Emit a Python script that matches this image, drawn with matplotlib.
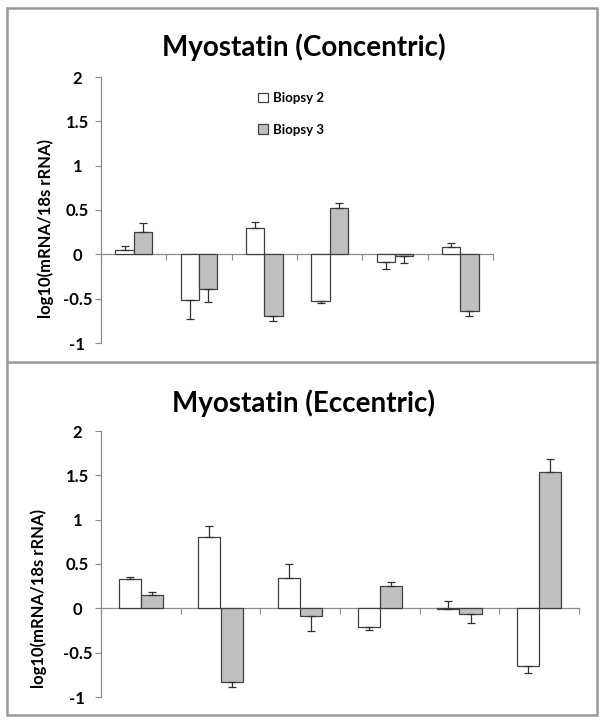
import matplotlib
matplotlib.use("Agg")
import matplotlib.pyplot as plt
import numpy as np
from matplotlib.lines import Line2D
from matplotlib.patches import Rectangle, Patch

plt.rcParams['font.family'] = ['Lato', 'DejaVu Sans']

# ---- data ----
n_groups = 6
series_names = ["Biopsy 2", "Biopsy 3"]
yticks = [-1, -0.5, 0, 0.5, 1, 1.5, 2]
ytick_labels = ["-1", "-0.5", "0", "0.5", "1", "1.5", "2"]

conc_b2 = [0.045, -0.515, 0.30, -0.53, -0.09, 0.078]
conc_b3 = [0.25, -0.39, -0.70, 0.52, -0.015, -0.64]
# signed error offsets (cap position = value + err)
conc_b2_err = [0.045, -0.215, 0.07, -0.02, -0.08, 0.045]
conc_b3_err = [0.105, -0.15, -0.05, 0.055, -0.082, -0.05]

ecc_b2 = [0.335, 0.81, 0.34, -0.207, -0.01, -0.65]
ecc_b3 = [0.147, -0.83, -0.083, 0.248, -0.068, 1.534]
ecc_b2_err = [0.015, 0.12, 0.16, -0.038, 0.09, -0.083]
ecc_b3_err = [0.033, -0.06, -0.177, 0.049, -0.092, 0.154]

W, H = 604, 723
fig = plt.figure(figsize=(W / 100, H / 100), dpi=100)

def fx(px):
    return px / W

def fy(py):
    return 1 - py / H

axis_gray = "#8c8c8c"
edge = "#404040"
fill3 = "#c0c0c0"

def draw_panel(ax, b2, b3, e2, e3, title, title_y, ylabel_xy):
    x = np.arange(n_groups) + 0.5
    bw = 0.28
    for vals, errs, off, color, name in ((b2, e2, -bw / 2, "white", series_names[0]),
                                         (b3, e3, bw / 2, fill3, series_names[1])):
        vals = np.array(vals)
        errs = np.array(errs)
        ax.bar(x + off, vals, width=bw, color=color, edgecolor=edge, linewidth=0.9,
               zorder=3, label=name)
        lower = np.where(errs < 0, -errs, 0)
        upper = np.where(errs > 0, errs, 0)
        ax.errorbar(x + off, vals, yerr=[lower, upper], fmt="none", ecolor="#303030",
                    elinewidth=0.9, capsize=3.2, capthick=0.9, zorder=4)
    ax.set_xlim(0, n_groups)
    ax.set_ylim(-1, 2)
    ax.set_yticks(yticks)
    ax.set_yticklabels(ytick_labels, fontsize=12, fontweight="bold")
    ax.set_xticks(np.arange(n_groups + 1))
    ax.set_xticklabels([])
    for s in ("top", "right"):
        ax.spines[s].set_visible(False)
    ax.spines["bottom"].set_position(("data", 0))
    for s in ("left", "bottom"):
        ax.spines[s].set_color(axis_gray)
        ax.spines[s].set_linewidth(0.9)
    ax.tick_params(axis="y", direction="out", length=4, color=axis_gray, pad=13)
    ax.tick_params(axis="x", direction="out", length=4, color=axis_gray)
    for lab in ax.get_yticklabels():
        lab.set_horizontalalignment("center")
    ax.set_ylabel("log10(mRNA/18s rRNA)", fontsize=12, fontweight="bold")
    ax.yaxis.set_label_coords(*ylabel_xy)
    fig.text(fx(304), fy(title_y), title, ha="center", va="center",
             fontsize=20, fontweight="bold")

ax1 = fig.add_axes([fx(101), fy(343), fx(493) - fx(101), fy(77) - fy(343)])
draw_panel(ax1, conc_b2, conc_b3, conc_b2_err, conc_b3_err,
           "Myostatin (Concentric)", 47, (-0.12, 0.43))

ax2 = fig.add_axes([fx(101), fy(697), fx(579) - fx(101), fy(431) - fy(697)])
draw_panel(ax2, ecc_b2, ecc_b3, ecc_b2_err, ecc_b3_err,
           "Myostatin (Eccentric)", 403, (-0.114, 0.37))

handles = [Patch(facecolor="white", edgecolor=edge, linewidth=0.9),
           Patch(facecolor=fill3, edgecolor=edge, linewidth=0.9)]
leg = ax1.legend(handles, series_names, loc="upper left",
                 bbox_to_anchor=(fx(258), fy(92)), bbox_transform=fig.transFigure,
                 frameon=False, prop={"weight": "bold", "size": 9.5},
                 handlelength=0.75, handleheight=0.75, handletextpad=0.35,
                 labelspacing=1.5, borderaxespad=0, borderpad=0)

# outer frames
lw = 1.8
fcol = "#999999"
fig.add_artist(Rectangle((fx(7), fy(715)), fx(597) - fx(7), fy(8) - fy(715),
                         transform=fig.transFigure, fill=False, edgecolor=fcol, linewidth=lw))
fig.add_artist(Line2D([fx(7), fx(597)], [fy(362), fy(362)], transform=fig.transFigure,
                      color=fcol, linewidth=lw))

fig.savefig("out.png", dpi=100)
